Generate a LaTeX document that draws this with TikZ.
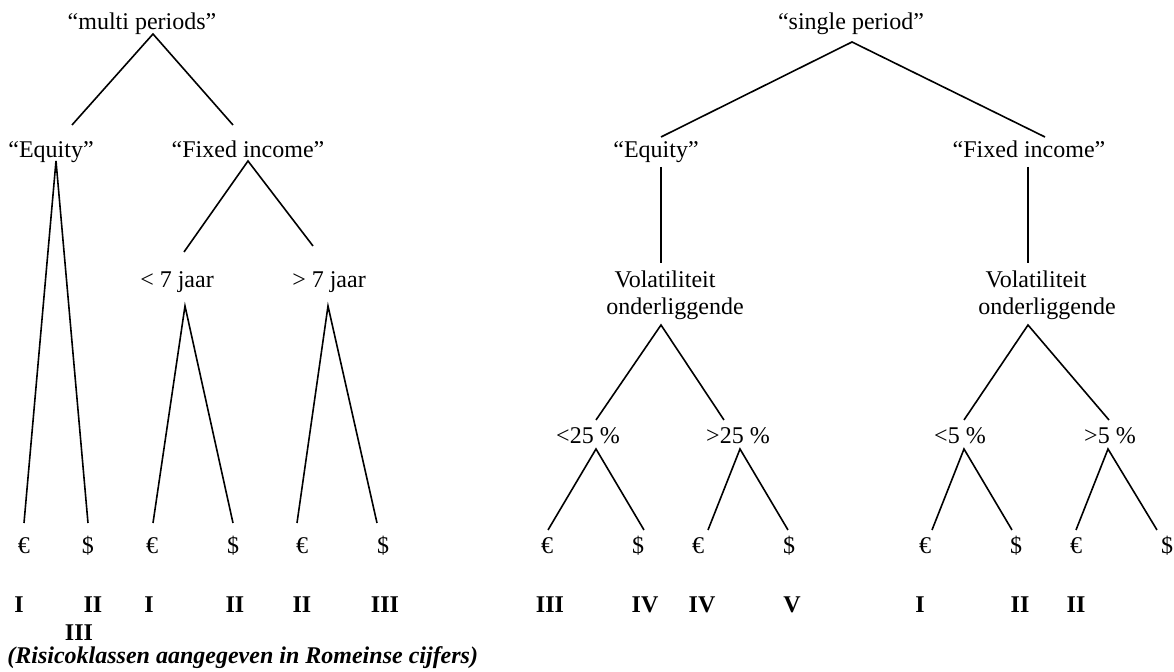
\documentclass[tikz,border=0pt]{standalone}
\usepackage{fontspec}
\setmainfont{Liberation Serif}

\tikzset{
  lbl/.style={inner sep=0pt,anchor=base,font=\fontsize{12}{13.5}\selectfont},
  rk/.style={lbl,font=\fontsize{12}{13.5}\selectfont\bfseries},
  tak/.style={line width=0.8pt}
}

\begin{document}
\begin{tikzpicture}[x=0.5pt,y=-0.5pt]
\useasboundingbox (0,0) rectangle (1174,672);

% ---- multi periods
\node[lbl] (mp) at (142,30) {“multi periods”};
\node[lbl] (eqA) at (51,158) {“Equity”};
\node[lbl] (fiA) at (248,158) {“Fixed income”};
\node[lbl] (lt7) at (177,288) {< 7 jaar};
\node[lbl] (gt7) at (329,288) {> 7 jaar};
\node[lbl] (a1) at (24,554) {€};
\node[lbl] (a2) at (88,554) {\$};
\node[lbl] (a3) at (152,554) {€};
\node[lbl] (a4) at (233,554) {\$};
\node[lbl] (a5) at (302,554) {€};
\node[lbl] (a6) at (383,554) {\$};
\node[rk] (ra1) at (19,613) {I};
\node[rk] (ra2) at (93,613) {II};
\node[rk] (ra2b) at (79,641) {III}; % tweede regel
\node[rk] (ra3) at (149,613) {I};
\node[rk] (ra4) at (235,613) {II};
\node[rk] (ra5) at (302,613) {II};
\node[rk] (ra6) at (385,613) {III};
\node[lbl,anchor=base west,font=\fontsize{12}{13.5}\selectfont\bfseries\itshape] (cap) at (7,664) {(Risicoklassen aangegeven in Romeinse cijfers)};

\coordinate (mpb) at (153,34);
\coordinate (eqAt) at (72,125);
\coordinate (fiAt) at (233,125);
\coordinate (eqAb) at (56,161);
\coordinate (fiAb) at (248,161);
\coordinate (lt7t) at (184,252);
\coordinate (gt7t) at (313,246);
\coordinate (lt7b) at (185,306);
\coordinate (gt7b) at (328,306);
\coordinate (a1t) at (24,523);
\coordinate (a2t) at (88,523);
\coordinate (a3t) at (153,523);
\coordinate (a4t) at (233,523);
\coordinate (a5t) at (297,523);
\coordinate (a6t) at (377,523);

\draw[tak] (eqAt) -- (mpb) -- (fiAt);
\draw[tak] (a1t) -- (eqAb) -- (a2t); % smalle V
\draw[tak] (lt7t) -- (fiAb) -- (gt7t);
\draw[tak] (a3t) -- (lt7b) -- (a4t);
\draw[tak] (a5t) -- (gt7b) -- (a6t);

% ---- single period
\node[lbl] (sp) at (851,30) {“single period”};
\node[lbl] (eqB) at (656,158) {“Equity”};
\node[lbl] (fiB) at (1029,158) {“Fixed income”};
\node[lbl] (volA) at (665,288) {Volatiliteit};
\node[lbl] (ondA) at (675,315) {onderliggende};
\node[lbl] (volB) at (1036,288) {Volatiliteit};
\node[lbl] (ondB) at (1047,315) {onderliggende};
\node[lbl] (lt25) at (588,444) {<25 \%};
\node[lbl] (gt25) at (738,444) {>25 \%};
\node[lbl] (lt5) at (960,444) {<5 \%};
\node[lbl] (gt5) at (1110,444) {>5 \%};
\node[lbl] (b1) at (547,554) {€};
\node[lbl] (b2) at (638,554) {\$};
\node[lbl] (b3) at (698,554) {€};
\node[lbl] (b4) at (789,554) {\$};
\node[lbl] (b5) at (925,554) {€};
\node[lbl] (b6) at (1016,554) {\$};
\node[lbl] (b7) at (1076,554) {€};
\node[lbl] (b8) at (1167,554) {\$};
\node[rk] (rb1) at (550,613) {III};
\node[rk] (rb2) at (645,613) {IV};
\node[rk] (rb3) at (702,613) {IV};
\node[rk] (rb4) at (792,613) {V};
\node[rk] (rb5) at (920,613) {I};
\node[rk] (rb6) at (1020,613) {II};
\node[rk] (rb7) at (1076,613) {II};

\coordinate (spb) at (852,42);
\coordinate (eqBt) at (661,137);
\coordinate (fiBt) at (1045,137);
\coordinate (eqBb) at (661,167);
\coordinate (fiBb) at (1028,167);
\coordinate (volAt) at (661,263);
\coordinate (volBt) at (1028,263);
\coordinate (volAb) at (661,325);
\coordinate (volBb) at (1028,325);
\coordinate (lt25t) at (596,420);
\coordinate (gt25t) at (724,420);
\coordinate (lt5t) at (964,420);
\coordinate (gt5t) at (1109,420);
\coordinate (lt25b) at (596,449);
\coordinate (gt25b) at (740,449);
\coordinate (lt5b) at (964,449);
\coordinate (gt5b) at (1108,449);
\coordinate (b1t) at (548,530);
\coordinate (b2t) at (644,530);
\coordinate (b3t) at (708,530);
\coordinate (b4t) at (788,530);
\coordinate (b5t) at (932,530);
\coordinate (b6t) at (1012,530);
\coordinate (b7t) at (1076,530);
\coordinate (b8t) at (1157,530);

\draw[tak] (eqBt) -- (spb) -- (fiBt);
\draw[tak] (eqBb) -- (volAt);
\draw[tak] (fiBb) -- (volBt);
\draw[tak] (lt25t) -- (volAb) -- (gt25t);
\draw[tak] (lt5t) -- (volBb) -- (gt5t);
\draw[tak] (b1t) -- (lt25b) -- (b2t);
\draw[tak] (b3t) -- (gt25b) -- (b4t);
\draw[tak] (b5t) -- (lt5b) -- (b6t);
\draw[tak] (b7t) -- (gt5b) -- (b8t);
\end{tikzpicture}
\end{document}
